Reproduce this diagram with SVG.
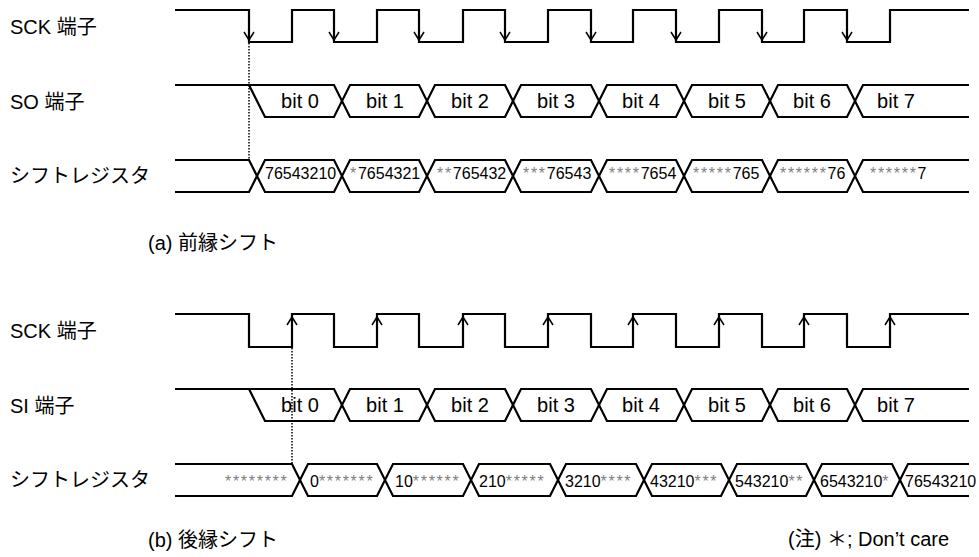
<svg xmlns="http://www.w3.org/2000/svg" width="979" height="557" viewBox="0 0 979 557">
<style>
text{font-family:"Liberation Sans","Noto Sans CJK JP",sans-serif;fill:#000}
.lbl{font-size:20px}
.bit{font-size:20px;text-anchor:middle}
.reg{font-size:16px}
.ast{fill:#808080;letter-spacing:1.7px}
.wave{fill:none;stroke:#000;stroke-width:2.2;stroke-linejoin:miter}
.arr{fill:none;stroke:#000;stroke-width:1.5}
.dot{fill:none;stroke:#000;stroke-width:1.5;stroke-dasharray:1.5 1.5}
</style>
<rect width="979" height="557" fill="#fff"/>
<g id="labels">
<text class="lbl" x="10" y="34">SCK 端子</text>
<text class="lbl" x="10" y="109">SO 端子</text>
<text class="lbl" x="10" y="183">シフトレジスタ</text>
<text class="lbl" x="10" y="338">SCK 端子</text>
<text class="lbl" x="10" y="413">SI 端子</text>
<text class="lbl" x="10" y="487">シフトレジスタ</text>
<text class="lbl" x="148" y="250">(a) 前縁シフト</text>
<text class="lbl" x="148" y="547">(b) 後縁シフト</text>
<text class="lbl" x="788" y="546">(注) ＊; Don’t care</text>
</g>
<g id="connectors">
<path class="wave" d="M175,10 H249 V42 H292 V10 H334 V42 H377 V10 H419 V42 H463 V10 H505 V42 H548 V10 H591 V42 H633 V10 H676 V42 H719 V10 H762 V42 H804 V10 H847 V42 H890 V10 H969"/>
<path class="arr" d="M244,32 L249,40 L254,32 M329,32 L334,40 L339,32 M414,32 L419,40 L424,32 M500,32 L505,40 L510,32 M586,32 L591,40 L596,32 M671,32 L676,40 L681,32 M757,32 L762,40 L767,32 M842,32 L847,40 L852,32"/>
<path class="dot" d="M249,43 V160"/>
<path class="wave" d="M175,85 H334 L350,117 H419 L435,85 H505 L521,117 H591 L607,85 H676 L692,117 H762 L778,85 H847 L863,117 H969"/>
<path class="wave" d="M249,85 L265,117 H334 L350,85 H419 L435,117 H505 L521,85 H591 L607,117 H676 L692,85 H762 L778,117 H847 L863,85 H969"/>
<path class="wave" d="M175,160 H249 L265,192 H334 L350,160 H419 L435,192 H505 L521,160 H591 L607,192 H676 L692,160 H762 L778,192 H847 L863,160 H969"/>
<path class="wave" d="M175,192 H249 L265,160 H334 L350,192 H419 L435,160 H505 L521,192 H591 L607,160 H676 L692,192 H762 L778,160 H847 L863,192 H969"/>
<path class="wave" d="M175,314 H249 V347 H292 V314 H334 V347 H377 V314 H419 V347 H463 V314 H505 V347 H548 V314 H591 V347 H633 V314 H676 V347 H719 V314 H762 V347 H804 V314 H847 V347 H890 V314 H969"/>
<path class="arr" d="M287,325 L292,317 L297,325 M372,325 L377,317 L382,325 M458,325 L463,317 L468,325 M543,325 L548,317 L553,325 M628,325 L633,317 L638,325 M714,325 L719,317 L724,325 M799,325 L804,317 L809,325 M885,325 L890,317 L895,325"/>
<path class="dot" d="M292,348 V464"/>
<path class="wave" d="M175,389 H334 L350,421 H419 L435,389 H505 L521,421 H591 L607,389 H676 L692,421 H762 L778,389 H847 L863,421 H969"/>
<path class="wave" d="M249,389 L265,421 H334 L350,389 H419 L435,421 H505 L521,389 H591 L607,421 H676 L692,389 H762 L778,421 H847 L863,389 H969"/>
<path class="wave" d="M175,464 H292 L308,496 H377 L393,464 H463 L479,496 H550 L566,464 H636 L652,496 H721 L737,464 H806 L822,496 H892 L908,464 H969"/>
<path class="wave" d="M175,496 H292 L308,464 H377 L393,496 H463 L479,464 H550 L566,496 H636 L652,464 H721 L737,496 H806 L822,464 H892 L908,496 H969"/>
</g>
<g id="so-bits">
<text class="bit" x="300" y="108">bit 0</text>
<text class="bit" x="385" y="108">bit 1</text>
<text class="bit" x="470" y="108">bit 2</text>
<text class="bit" x="556" y="108">bit 3</text>
<text class="bit" x="641" y="108">bit 4</text>
<text class="bit" x="727" y="108">bit 5</text>
<text class="bit" x="812" y="108">bit 6</text>
<text class="bit" x="896" y="108">bit 7</text>
</g>
<g id="si-bits">
<text class="bit" x="300" y="412">bit 0</text>
<text class="bit" x="385" y="412">bit 1</text>
<text class="bit" x="470" y="412">bit 2</text>
<text class="bit" x="556" y="412">bit 3</text>
<text class="bit" x="641" y="412">bit 4</text>
<text class="bit" x="727" y="412">bit 5</text>
<text class="bit" x="812" y="412">bit 6</text>
<text class="bit" x="896" y="412">bit 7</text>
</g>
<g id="reg-a">
<text class="reg" x="265" y="178.5">76543210</text>
<text class="reg" x="350" y="178.5"><tspan class="ast">*</tspan>7654321</text>
<text class="reg" x="437" y="178.5"><tspan class="ast">**</tspan>765432</text>
<text class="reg" x="523" y="178.5"><tspan class="ast">***</tspan>76543</text>
<text class="reg" x="609" y="178.5"><tspan class="ast">****</tspan>7654</text>
<text class="reg" x="693" y="178.5"><tspan class="ast">*****</tspan>765</text>
<text class="reg" x="780" y="178.5"><tspan class="ast">******</tspan>76</text>
<text class="reg" x="870" y="178.5"><tspan class="ast">******</tspan>7</text>
</g>
<g id="reg-b">
<text class="reg" x="225" y="487"><tspan class="ast">********</tspan></text>
<text class="reg" x="310" y="487">0<tspan class="ast">*******</tspan></text>
<text class="reg" x="395" y="487">10<tspan class="ast">******</tspan></text>
<text class="reg" x="479" y="487">210<tspan class="ast">*****</tspan></text>
<text class="reg" x="565" y="487">3210<tspan class="ast">****</tspan></text>
<text class="reg" x="650" y="487">43210<tspan class="ast">***</tspan></text>
<text class="reg" x="735" y="487">543210<tspan class="ast">**</tspan></text>
<text class="reg" x="820" y="487">6543210<tspan class="ast">*</tspan></text>
<text class="reg" x="905" y="487">76543210</text>
</g>
</svg>
